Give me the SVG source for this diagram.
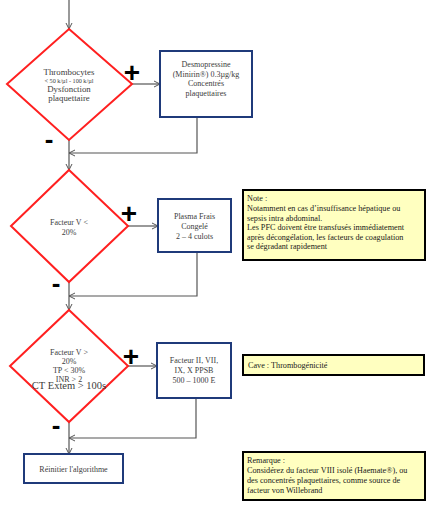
<svg xmlns="http://www.w3.org/2000/svg" width="433" height="507" viewBox="0 0 433 507">
<style>
.dia{fill:#fff;stroke:#ff2020;stroke-width:2}
.box{fill:#fff;stroke:#1f3a7a;stroke-width:2}
.note{fill:#ffffc0;stroke:#000;stroke-width:2}
.t{font-family:"Liberation Serif",serif;fill:#3c3c3c;text-anchor:middle}
.nt{font-family:"Liberation Serif",serif;fill:#1a1a1a;font-size:8.2px}
.c{fill:none;stroke:#555;stroke-width:1.2}
.sign{font-family:"Liberation Sans",sans-serif;font-weight:bold;fill:#000;text-anchor:middle}
</style>
<defs>
<marker id="a" markerWidth="8" markerHeight="8" refX="7" refY="4" orient="auto" markerUnits="userSpaceOnUse">
<path d="M1,1 L7,4 L1,7" fill="none" stroke="#555" stroke-width="1"/>
</marker>
</defs>
<g id="connectors">
<line class="c" x1="69" y1="0" x2="69" y2="29" marker-end="url(#a)"/>
<line class="c" x1="132" y1="84" x2="160" y2="84" marker-end="url(#a)"/>
<polyline class="c" points="197,117 197,153 69,153" marker-end="url(#a)"/>
<line class="c" x1="69" y1="140" x2="69" y2="170" marker-end="url(#a)"/>
<line class="c" x1="128" y1="226" x2="158" y2="226" marker-end="url(#a)"/>
<polyline class="c" points="197,252 197,296 69,296" marker-end="url(#a)"/>
<line class="c" x1="69" y1="282" x2="69" y2="310" marker-end="url(#a)"/>
<line class="c" x1="128" y1="366" x2="157" y2="366" marker-end="url(#a)"/>
<polyline class="c" points="196,398 196,438 69,438" marker-end="url(#a)"/>
<line class="c" x1="69" y1="422" x2="69" y2="454" marker-end="url(#a)"/>
</g>
<g id="d1">
<polygon class="dia" points="69,29 132,84 69,140 7,84"/>
<text class="t" x="69" y="75" font-size="8.8">Thrombocytes</text>
<text class="t" x="69" y="83" font-size="6.2">&lt; 50 k/µl - 100 k/µl</text>
<text class="t" x="69" y="92" font-size="8.8">Dysfonction</text>
<text class="t" x="69" y="101" font-size="8.8">plaquettaire</text>
</g>
<g id="b1">
<rect class="box" x="160" y="51" width="92" height="66"/>
<text class="t" x="206" y="67" font-size="8">Desmopressine</text>
<text class="t" x="206" y="76.5" font-size="8">(Minirin®) 0.3µg/kg</text>
<text class="t" x="206" y="86" font-size="8">Concentrés</text>
<text class="t" x="206" y="95.5" font-size="8">plaquettaires</text>
</g>
<g id="d2">
<polygon class="dia" points="69,170 128,226 69,282 11,226"/>
<text class="t" x="69" y="225" font-size="8">Facteur V &lt;</text>
<text class="t" x="69" y="235" font-size="8">20%</text>
</g>
<g id="b2">
<rect class="box" x="158" y="199" width="73" height="53"/>
<text class="t" x="194.5" y="219" font-size="8">Plasma Frais</text>
<text class="t" x="194.5" y="229" font-size="8">Congelé</text>
<text class="t" x="194.5" y="239" font-size="8">2 – 4 culots</text>
</g>
<g id="d3">
<polygon class="dia" points="69,310 128,366 69,422 10,366"/>
<text class="t" x="69" y="355" font-size="8">Facteur V &gt;</text>
<text class="t" x="69" y="364" font-size="8">20%</text>
<text class="t" x="69" y="373" font-size="8">TP &lt; 30%</text>
<text class="t" x="69" y="382" font-size="8">INR &gt; 2</text>
<text class="t" x="69" y="389" font-size="10.5">CT Extem &gt; 100s</text>
</g>
<g id="b3">
<rect class="box" x="157" y="343" width="74" height="55"/>
<text class="t" x="194" y="363" font-size="8">Facteur II, VII,</text>
<text class="t" x="194" y="373" font-size="8">IX, X PPSB</text>
<text class="t" x="194" y="383" font-size="8">500 – 1000 E</text>
</g>
<g id="b4">
<rect class="box" x="24" y="454" width="99" height="29"/>
<text class="t" x="73.5" y="472" font-size="8">Réinitier l'algorithme</text>
</g>
<g id="signs">
<text class="sign" x="132" y="82" font-size="28">+</text>
<text class="sign" x="49" y="148" font-size="26">-</text>
<text class="sign" x="129" y="223" font-size="28">+</text>
<text class="sign" x="56" y="292" font-size="26">-</text>
<text class="sign" x="131" y="366" font-size="28">+</text>
<text class="sign" x="56" y="434" font-size="26">-</text>
</g>
<g id="n1">
<rect class="note" x="243" y="190" width="182" height="70"/>
<text class="nt" x="247" y="201">Note :</text>
<text class="nt" x="247" y="211">Notamment en cas d’insuffisance hépatique ou</text>
<text class="nt" x="247" y="220.5">sepsis intra abdominal.</text>
<text class="nt" x="247" y="230">Les PFC doivent être transfusés immédiatement</text>
<text class="nt" x="247" y="239.5">après décongélation, les facteurs de coagulation</text>
<text class="nt" x="247" y="249">se dégradant rapidement</text>
</g>
<g id="n2">
<rect class="note" x="243" y="355" width="181" height="20"/>
<text class="nt" x="248" y="368">Cave : Thrombogénicité</text>
</g>
<g id="n3">
<rect class="note" x="243" y="452" width="182" height="48"/>
<text class="nt" x="247" y="463">Remarque :</text>
<text class="nt" x="247" y="473">Considérez du facteur VIII isolé (Haemate®), ou</text>
<text class="nt" x="247" y="483">des concentrés plaquettaires, comme source de</text>
<text class="nt" x="247" y="493">facteur von Willebrand</text>
</g>
</svg>
